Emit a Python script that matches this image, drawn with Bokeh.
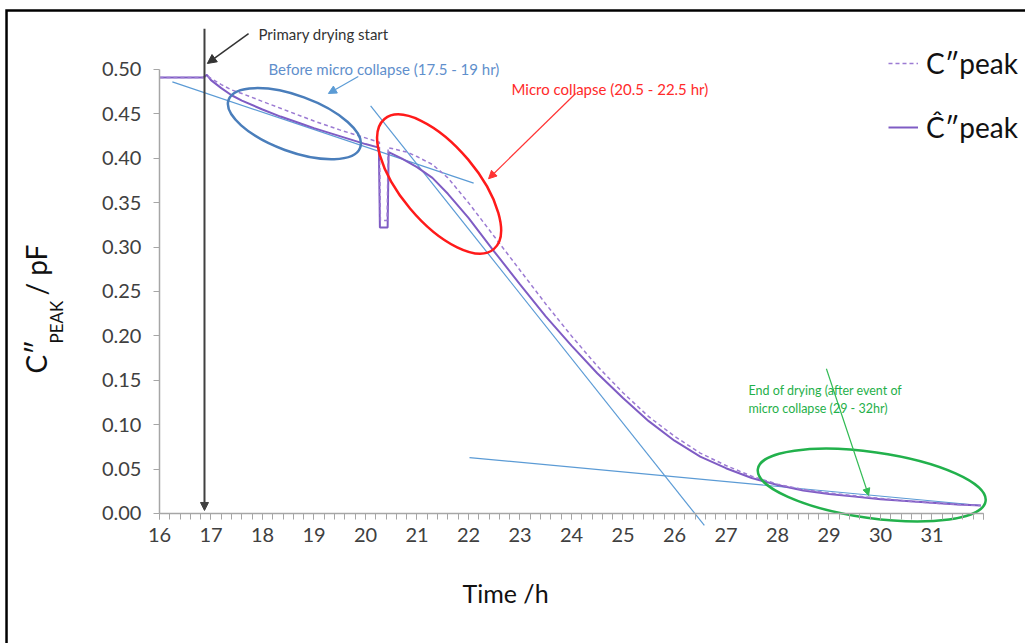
import math
from bokeh.plotting import figure
from bokeh.models import (Range1d, FixedTicker, Label, Arrow, NormalHead,
                          Legend, LegendItem, NumeralTickFormatter)
from bokeh.embed import file_html
from bokeh.resources import INLINE

# ---------------- data ----------------
time_dashed = [16.0, 16.85, 16.92, 17.0, 17.2, 17.4, 17.6, 18.0, 18.5, 19.0, 19.5, 20.0, 20.27,
               20.29, 20.42, 20.44, 20.8, 21.0, 21.3, 21.6, 22.0, 22.5, 23.0, 23.5, 24.0, 24.5,
               25.0, 25.5, 26.0, 26.5, 27.0, 27.5, 28.0, 28.5, 29.0, 29.5, 30.0, 30.5, 31.0,
               31.5, 31.95]
c_peak = [0.491, 0.491, 0.493, 0.490, 0.483, 0.477, 0.473, 0.464, 0.453, 0.442, 0.432, 0.423, 0.418,
          0.330, 0.330, 0.412, 0.407, 0.402, 0.393, 0.378, 0.350, 0.312, 0.274, 0.236, 0.200, 0.166,
          0.136, 0.109, 0.087, 0.068, 0.054, 0.042, 0.033, 0.027, 0.023, 0.020, 0.017, 0.014, 0.012,
          0.010, 0.009]

time_solid = [16.0, 16.85, 16.92, 17.0, 17.2, 17.4, 17.6, 18.0, 18.35, 18.7, 19.0, 19.5, 20.0, 20.26,
              20.28, 20.43, 20.45, 20.7, 21.0, 21.3, 21.6, 22.0, 22.5, 23.0, 23.5, 24.0, 24.5, 25.0,
              25.5, 26.0, 26.5, 27.0, 27.5, 28.0, 28.5, 29.0, 29.5, 30.0, 30.5, 31.0, 31.5, 31.95]
c_hat_peak = [0.491, 0.491, 0.494, 0.488, 0.479, 0.471, 0.465, 0.455, 0.447, 0.440, 0.434, 0.425, 0.416,
              0.412, 0.322, 0.322, 0.407, 0.400, 0.390, 0.378, 0.360, 0.333, 0.295, 0.258, 0.222, 0.189,
              0.158, 0.130, 0.104, 0.082, 0.064, 0.051, 0.040, 0.032, 0.026, 0.022, 0.019, 0.016, 0.014,
              0.012, 0.010, 0.009]

tangent1_t = [16.25, 22.10]
tangent1_v = [0.486, 0.372]
tangent2_t = [20.10, 26.58]
tangent2_v = [0.459, -0.0135]
tangent3_t = [22.02, 31.95]
tangent3_v = [0.063, 0.009]

x_ticks = list(range(16, 33))
y_ticks = [0.00, 0.05, 0.10, 0.15, 0.20, 0.25, 0.30, 0.35, 0.40, 0.45, 0.50]

# annotation ellipses (centre in data, size in screen px)
ell_t = [18.62, 21.43, 29.83]
ell_v = [0.439, 0.371, 0.032]
ell_w = [140, 170, 230]
ell_h = [56, 76, 66]
ell_angle_deg = [-20, -50, -8]
ell_color = ["#4a7ebb", "#ff1a1a", "#22b14c"]

# picture frame (left and top edges of the figure border)
frame_t = [13.03, 13.03, 33.5]
frame_v = [-0.3, 0.5664, 0.5664]

FONT = "Lato"

# the plot frame covers the whole canvas; both axes are pinned at (16, 0)
p = figure(width=1025, height=643, output_backend="svg", toolbar_location=None,
           x_range=Range1d(12.913, 32.816), y_range=Range1d(-0.1464, 0.5777),
           min_border_left=0, min_border_right=0, min_border_top=0, min_border_bottom=0)
p.outline_line_color = None
p.grid.visible = False
p.background_fill_color = "white"
p.border_fill_color = "white"

axis_grey = "#a6a6a6"
xa = p.xaxis[0]
xa.fixed_location = 0
xa.bounds = (16, 32)
xa.ticker = FixedTicker(ticks=x_ticks, minor_ticks=[16 + 0.2 * i for i in range(81)])
xa.major_label_overrides = {32: ""}
ya = p.yaxis[0]
ya.fixed_location = 16
ya.bounds = (0, 0.5)
ya.ticker = FixedTicker(ticks=y_ticks)
ya.formatter = NumeralTickFormatter(format="0.00")
for ax in (xa, ya):
    ax.axis_line_color = axis_grey
    ax.axis_line_width = 1.5
    ax.major_tick_line_color = axis_grey
    ax.major_tick_in = 0
    ax.major_tick_out = 6
    ax.minor_tick_in = 0
    ax.minor_tick_out = 6
    ax.major_label_text_font = FONT
    ax.major_label_text_font_size = "20px"
    ax.major_label_text_color = "#404040"
xa.minor_tick_line_color = axis_grey
ya.minor_tick_line_color = None
xa.major_label_standoff = 9
ya.major_label_standoff = 12

# border of the picture
p.line(frame_t, frame_v, line_color="black", line_width=2.5, line_join="miter")

# tangent lines
for tt, vv in ((tangent1_t, tangent1_v), (tangent2_t, tangent2_v), (tangent3_t, tangent3_v)):
    p.line(tt, vv, line_color="#5b9bd5", line_width=1.2)

r_solid = p.line(time_solid, c_hat_peak, line_color="#7f5cc4", line_width=2)
r_dash = p.line(time_dashed, c_peak, line_color="#9c7bd3", line_width=1.5, line_dash="4 3")

p.ellipse(x=ell_t, y=ell_v, width=ell_w, height=ell_h,
          angle=[math.radians(a) for a in ell_angle_deg],
          width_units="screen", height_units="screen",
          fill_color=None, line_color=ell_color, line_width=2.5)

legend = Legend(items=[LegendItem(label="C″peak", renderers=[r_dash]),
                       LegendItem(label="Ĉ″peak", renderers=[r_solid])],
                location=(888, 499), background_fill_alpha=0, border_line_color=None,
                padding=0, margin=0, spacing=30, glyph_width=30, glyph_height=20,
                label_height=20, label_standoff=8, label_text_font=FONT,
                label_text_font_size="28px", label_text_color="#111111")
p.add_layout(legend)

# arrows
def add_arrow(x0, y0, x1, y1, color, width=1.2, size=8):
    p.add_layout(Arrow(x_start=x0, y_start=y0, x_end=x1, y_end=y1,
                       line_color=color, line_width=width,
                       end=NormalHead(size=size, fill_color=color, line_color=color)))

add_arrow(16.874, 0.546, 16.874, 0.0034, "#404040", width=2, size=8)
add_arrow(17.73, 0.5405, 16.93, 0.5068, "#333333", width=1.5, size=9)
add_arrow(19.86, 0.492, 19.28, 0.473, "#5b9bd5", width=1.2, size=8)
add_arrow(24.08, 0.473, 22.39, 0.377, "#ff3333", width=1.2, size=8)
add_arrow(28.95, 0.163, 29.77, 0.0203, "#33bb55", width=1.2, size=7)

def add_text(x, y, text, color, size, **kw):
    p.add_layout(Label(x=x, y=y, text=text, text_color=color, text_font=FONT,
                       text_font_size=size, text_baseline=kw.pop("baseline", "middle"),
                       text_align=kw.pop("align", "left"), **kw))

add_text(17.922, 0.5405, "Primary drying start", "#333333", "15px")
add_text(18.117, 0.5011, "Before micro collapse (17.5 - 19 hr)", "#5f8fcc", "15px")
add_text(22.835, 0.4786, "Micro collapse (20.5 - 22.5 hr)", "#ff2a2a", "15px")
add_text(27.437, 0.1385, "End of drying (after event of", "#1fb04a", "12.5px")
add_text(27.437, 0.1182, "micro collapse (29 - 32hr)", "#1fb04a", "12.5px")

# axis titles
add_text(22.72, -0.089, "Time /h", "#111111", "25px", align="center")
add_text(13.612, 0.1577, "C″", "#111111", "28px", baseline="alphabetic", angle=math.pi / 2)
add_text(14.0, 0.1914, "PEAK", "#111111", "17px", baseline="alphabetic", angle=math.pi / 2)
add_text(13.612, 0.2455, " / pF", "#111111", "28px", baseline="alphabetic", angle=math.pi / 2)

open("out.html", "w").write(file_html(p, INLINE))
